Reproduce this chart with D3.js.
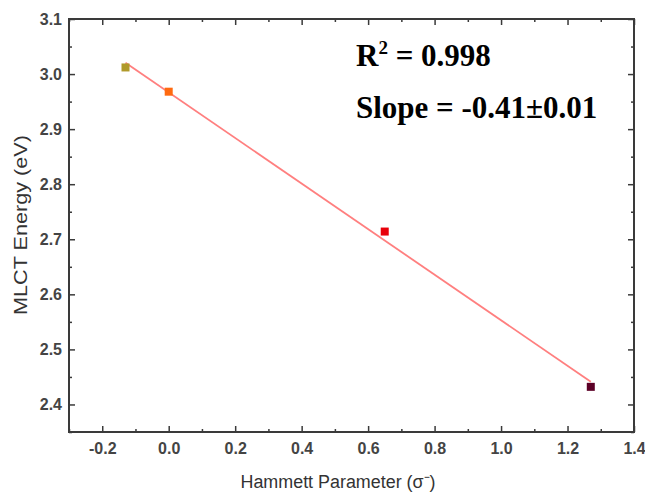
<!DOCTYPE html>
<html><head><meta charset="utf-8">
<script src="https://cdn.jsdelivr.net/npm/d3@7"></script>
<style>body{margin:0;background:#fff}svg{display:block}</style>
</head><body>
<script>
const hammett = [-0.13, 0.0, 0.65, 1.27];
const mlct = [3.012, 2.968, 2.714, 2.432];
const markerColors = ["#b09a2a", "#ff6a10", "#e8000a", "#5c0026"];
const xTicks = [-0.2, 0.0, 0.2, 0.4, 0.6, 0.8, 1.0, 1.2, 1.4];
const yTicks = [2.4, 2.5, 2.6, 2.7, 2.8, 2.9, 3.0, 3.1];
const annotations = ["R", "2", " = 0.998", "Slope = -0.41±0.01"];

const W = 645, H = 494;
const m = {left: 69, right: 11, top: 19, bottom: 62};
const svg = d3.select("body").append("svg").attr("width", W).attr("height", H);
const x = d3.scaleLinear().domain([-0.3, 1.4]).range([m.left, W - m.right]);
const y = d3.scaleLinear().domain([2.35, 3.1]).range([H - m.bottom, m.top]);
const pw = W - m.right - m.left, ph = H - m.bottom - m.top;

const axColor = "#3a3a3a";
const fontAx = "Liberation Sans, Arial, sans-serif";
const fmt = d => d.toFixed(1);

const xMinor = d3.range(-0.3, 1.41, 0.1).map(v => +v.toFixed(2)).filter(v => !xTicks.includes(v));
const yMinor = d3.range(2.35, 3.101, 0.05).map(v => +v.toFixed(2)).filter(v => !yTicks.includes(v));

function styleAxis(g) {
  g.select(".domain").remove();
  g.selectAll(".tick line").attr("stroke", axColor).attr("stroke-width", 1.5);
  g.selectAll("text").attr("fill", "#444").attr("font-family", fontAx).attr("font-size", 16).attr("font-weight", "bold");
}
svg.append("g").attr("transform", `translate(0,${H - m.bottom})`)
  .call(d3.axisBottom(x).tickValues(xTicks).tickSize(-6).tickPadding(11).tickFormat(fmt))
  .call(styleAxis);
svg.append("g").attr("transform", `translate(0,${H - m.bottom})`)
  .call(d3.axisBottom(x).tickValues(xMinor).tickSize(-3).tickFormat(""))
  .call(styleAxis);
svg.append("g").attr("transform", `translate(0,${m.top})`)
  .call(d3.axisTop(x).tickValues(xTicks).tickSize(-6).tickFormat(""))
  .call(styleAxis);
svg.append("g").attr("transform", `translate(0,${m.top})`)
  .call(d3.axisTop(x).tickValues(xMinor).tickSize(-3).tickFormat(""))
  .call(styleAxis);
svg.append("g").attr("transform", `translate(${m.left},0)`)
  .call(d3.axisLeft(y).tickValues(yTicks).tickSize(-6).tickPadding(7).tickFormat(fmt))
  .call(styleAxis);
svg.append("g").attr("transform", `translate(${m.left},0)`)
  .call(d3.axisLeft(y).tickValues(yMinor).tickSize(-3).tickFormat(""))
  .call(styleAxis);
svg.append("g").attr("transform", `translate(${W - m.right},0)`)
  .call(d3.axisRight(y).tickValues(yTicks).tickSize(-6).tickFormat(""))
  .call(styleAxis);
svg.append("g").attr("transform", `translate(${W - m.right},0)`)
  .call(d3.axisRight(y).tickValues(yMinor).tickSize(-3).tickFormat(""))
  .call(styleAxis);

svg.append("rect").attr("x", m.left).attr("y", m.top).attr("width", pw).attr("height", ph)
  .attr("fill", "none").attr("stroke", axColor).attr("stroke-width", 2);

// linear fit
const mx = d3.mean(hammett), my = d3.mean(mlct);
const sxy = d3.sum(hammett, (v, i) => (v - mx) * (mlct[i] - my));
const sxx = d3.sum(hammett, v => (v - mx) ** 2);
const slope = sxy / sxx, icpt = my - slope * mx;
const x0 = d3.min(hammett), x1 = d3.max(hammett);
svg.append("line")
  .attr("x1", x(x0)).attr("y1", y(icpt + slope * x0))
  .attr("x2", x(x1)).attr("y2", y(icpt + slope * x1))
  .attr("stroke", "#ff6060").attr("stroke-width", 1.8).attr("opacity", 0.8);

const s = 8;
svg.append("g").selectAll("rect").data(hammett).join("rect")
  .attr("x", d => x(d) - s / 2).attr("y", (d, i) => y(mlct[i]) - s / 2)
  .attr("width", s).attr("height", s)
  .attr("fill", (d, i) => markerColors[i]);

svg.append("text").attr("x", 338).attr("y", 488)
  .attr("text-anchor", "middle").attr("font-family", fontAx).attr("font-size", 18).attr("fill", "#333")
  .attr("textLength", 195).attr("lengthAdjust", "spacingAndGlyphs")
  .text("Hammett Parameter (σ⁻)");
svg.append("text").attr("transform", `translate(27,225) rotate(-90)`)
  .attr("text-anchor", "middle").attr("font-family", fontAx).attr("font-size", 18).attr("fill", "#333")
  .attr("textLength", 180).attr("lengthAdjust", "spacingAndGlyphs")
  .text("MLCT Energy (eV)");

const fontSerif = "Liberation Serif, Times New Roman, serif";
const t1 = svg.append("text").attr("x", 356).attr("y", 66)
  .attr("font-family", fontSerif).attr("font-weight", "bold").attr("font-size", 31).attr("fill", "#000");
t1.append("tspan").text(annotations[0]);
t1.append("tspan").attr("dy", -12).attr("font-size", 19).text(annotations[1]);
t1.append("tspan").attr("dy", 12).text(annotations[2]);
svg.append("text").attr("x", 356).attr("y", 118)
  .attr("font-family", fontSerif).attr("font-weight", "bold").attr("font-size", 31).attr("fill", "#000")
  .text(annotations[3]);
</script>
</body></html>
